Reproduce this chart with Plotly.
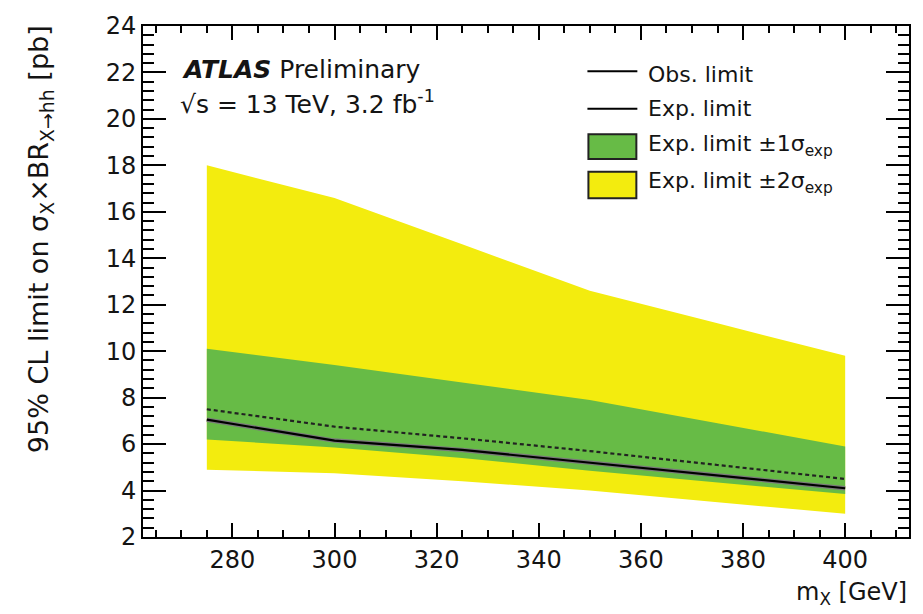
import plotly.graph_objects as go

# Resonance mass points [GeV]
mass = [275, 300, 325, 350, 375, 400]

# 95% CL upper limits on sigma x BR(X->hh) [pb]
obs_limit = [7.05, 6.15, 5.75, 5.2, 4.65, 4.1]
exp_limit = [7.5, 6.75, 6.25, 5.7, 5.1, 4.5]
exp_p1 = [10.1, 9.4, 8.65, 7.9, 6.9, 5.9]
exp_m1 = [6.2, 5.85, 5.4, 4.85, 4.35, 3.85]
exp_p2 = [18.0, 16.6, 14.6, 12.6, 11.2, 9.8]
exp_m2 = [4.9, 4.75, 4.4, 4.0, 3.5, 3.0]

YELLOW = "#f3ec0e"
GREEN = "#67bb46"
FONT = "DejaVu Sans, Liberation Sans, sans-serif"
INK = "#141414"

fig = go.Figure()

# +-2 sigma band
fig.add_trace(go.Scatter(
    x=mass + mass[::-1], y=exp_p2 + exp_m2[::-1],
    fill="toself", fillcolor=YELLOW, line=dict(width=0),
    mode="lines", hoverinfo="skip", showlegend=False))
# +-1 sigma band
fig.add_trace(go.Scatter(
    x=mass + mass[::-1], y=exp_p1 + exp_m1[::-1],
    fill="toself", fillcolor=GREEN, line=dict(width=0),
    mode="lines", hoverinfo="skip", showlegend=False))
# expected limit
fig.add_trace(go.Scatter(
    x=mass, y=exp_limit, mode="lines",
    line=dict(color="#222222", width=2.2, dash="4px,3px"),
    showlegend=False))
# observed limit (grey halo under a black core)
fig.add_trace(go.Scatter(
    x=mass, y=obs_limit, mode="lines",
    line=dict(color="#7a7a7a", width=4.5), showlegend=False, hoverinfo="skip"))
fig.add_trace(go.Scatter(
    x=mass, y=obs_limit, mode="lines",
    line=dict(color="black", width=2.2), showlegend=False))

# plot frame in pixels: left 143, right 910, top 18, bottom 537
L, R, T, B = 143, 910, 18, 537
W, H = R - L, B - T


def px(xp):
    return (xp - L) / W


def py(yp):
    return (B - yp) / H


shapes = []
ann = []

# legend samples
shapes.append(dict(type="line", xref="paper", yref="paper",
                   x0=px(588), x1=px(638), y0=py(64), y1=py(64),
                   line=dict(color="black", width=2)))
shapes.append(dict(type="line", xref="paper", yref="paper",
                   x0=px(588), x1=px(638), y0=py(102), y1=py(102),
                   line=dict(color="black", width=2)))
shapes.append(dict(type="rect", xref="paper", yref="paper",
                   x0=px(589), x1=px(637), y0=py(153), y1=py(128),
                   fillcolor=GREEN, line=dict(color="#222222", width=2)))
shapes.append(dict(type="rect", xref="paper", yref="paper",
                   x0=px(589), x1=px(637), y0=py(193), y1=py(166),
                   fillcolor=YELLOW, line=dict(color="#222222", width=2)))

leg_texts = [
    ("Obs. limit", 67),
    ("Exp. limit", 102),
    ("Exp. limit \u00b11\u03c3<sub>exp</sub>", 139),
    ("Exp. limit \u00b12\u03c3<sub>exp</sub>", 177),
]
for txt, yp in leg_texts:
    ann.append(dict(text=txt, xref="paper", yref="paper",
                    x=px(647), y=py(yp), xanchor="left", yanchor="middle",
                    showarrow=False, font=dict(family=FONT, size=22, color=INK)))

# experiment label
ann.append(dict(text="<b><i>ATLAS</i></b> Preliminary", xref="paper", yref="paper",
                x=px(180), y=py(62), xanchor="left", yanchor="middle",
                showarrow=False, font=dict(family=FONT, size=25, color=INK)))
ann.append(dict(text="\u221as = 13 TeV, 3.2 fb<sup>-1</sup>", xref="paper", yref="paper",
                x=px(178), y=py(96), xanchor="left", yanchor="middle",
                showarrow=False, font=dict(family=FONT, size=25, color=INK)))

# axis titles
ann.append(dict(text="m<sub>X</sub> [GeV]", xref="paper", yref="paper",
                x=1.0, y=py(594), xanchor="right", yanchor="middle",
                showarrow=False, font=dict(family=FONT, size=24, color=INK)))
ann.append(dict(text="95% CL limit on \u03c3<sub>X</sub>\u00d7BR<sub>X\u2192hh</sub> [pb]",
                xref="paper", yref="paper",
                x=px(40), y=py(15), xanchor="center", yanchor="top",
                textangle=-90, showarrow=False,
                font=dict(family=FONT, size=27, color=INK)))

fig.update_layout(
    width=923, height=614,
    margin=dict(l=L, r=923 - R, t=T, b=614 - B),
    paper_bgcolor="white", plot_bgcolor="white",
    shapes=shapes, annotations=ann,
    font=dict(family=FONT, size=24, color=INK),
)
fig.update_xaxes(
    range=[262.5, 412.5], tickvals=[280, 300, 320, 340, 360, 380, 400],
    ticks="inside", ticklen=14, tickwidth=2, tickcolor="black",
    minor=dict(dtick=5, tick0=0, ticks="inside", ticklen=7, tickwidth=2, tickcolor="black"),
    showline=True, linecolor="black", linewidth=2, mirror="ticks",
    showgrid=False, zeroline=False, tickfont=dict(size=24),
)
fig.update_yaxes(
    range=[2, 24], dtick=2, tick0=0,
    ticks="inside", ticklen=23, tickwidth=2, tickcolor="black",
    minor=dict(dtick=0.4, tick0=0, ticks="inside", ticklen=11, tickwidth=2, tickcolor="black"),
    showline=True, linecolor="black", linewidth=2, mirror="ticks",
    showgrid=False, zeroline=False, tickfont=dict(size=24),
)

fig.write_html("out.html")
